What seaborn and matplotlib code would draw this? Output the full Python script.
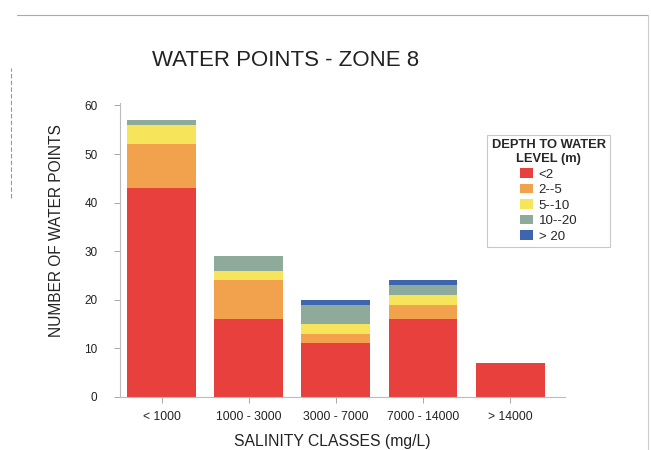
import matplotlib
matplotlib.use("Agg")
import matplotlib.pyplot as plt
import seaborn as sns
import pandas as pd
from matplotlib.lines import Line2D
from matplotlib.patches import Patch

categories = ["< 1000", "1000 - 3000", "3000 - 7000", "7000 - 14000", "> 14000"]
depth_classes = ["<2", "2--5", "5--10", "10--20", "> 20"]
lt2 = [43, 16, 11, 16, 7]
d2_5 = [9, 8, 2, 3, 0]
d5_10 = [4, 2, 2, 2, 0]
d10_20 = [1, 3, 4, 2, 0]
gt20 = [0, 0, 1, 1, 0]
series = [lt2, d2_5, d5_10, d10_20, gt20]
colors = ["#E8403C", "#F2A24C", "#F6E45A", "#8DAA9A", "#3D66AE"]

sns.set_theme(style="white")
plt.rcParams["font.family"] = ["Liberation Sans", "DejaVu Sans"]

fig = plt.figure(figsize=(6.51, 4.50), dpi=100)
ax = fig.add_axes([0.184, 0.118, 0.684, 0.653])

bottom = [0] * len(categories)
for name, vals, col in zip(depth_classes, series, colors):
    df = pd.DataFrame({"cat": categories, "val": vals})
    sns.barplot(data=df, x="cat", y="val", color=col, bottom=bottom, width=0.79,
                saturation=1, ax=ax, linewidth=0, order=categories)
    bottom = [b + v for b, v in zip(bottom, vals)]

ax.set_xlim(-0.48, 4.63)
ax.set_ylim(0, 60.5)
ax.set_yticks([0, 10, 20, 30, 40, 50, 60])
ax.tick_params(axis="both", colors="#999999", length=4, width=0.6,
               bottom=True, left=True, labelcolor="#222222")
ax.tick_params(axis="y", labelsize=8.5, pad=12)
ax.tick_params(axis="x", labelsize=8.7, pad=6)
for s in ["top", "right"]:
    ax.spines[s].set_visible(False)
for s in ["left", "bottom"]:
    ax.spines[s].set_color("#BBBBBB")
    ax.spines[s].set_linewidth(0.8)

ax.set_xlabel("SALINITY CLASSES (mg/L)", fontsize=11.3, color="#222222")
ax.set_ylabel("NUMBER OF WATER POINTS", fontsize=11.2, color="#222222")
ax.xaxis.set_label_coords(0.478, -0.125)
ax.yaxis.set_label_coords(-0.125, 0.565)
fig.text(0.438, 0.865, "WATER POINTS - ZONE 8", fontsize=16, ha="center", va="center",
         color="#222222")

handles = [Patch(facecolor=c, edgecolor="none") for c in colors]
leg = ax.legend(handles, depth_classes, title="DEPTH TO WATER\nLEVEL (m)",
                loc="upper left", bbox_to_anchor=(0.81, 0.915), fontsize=9.5,
                title_fontproperties={"weight": "bold", "size": 9.3},
                frameon=True, fancybox=False, edgecolor="#BBBBBB",
                handlelength=1.0, handleheight=0.7, handletextpad=0.4,
                labelspacing=0.25, borderpad=0.35)
leg.get_frame().set_linewidth(0.8)
leg.get_title().set_multialignment("center")
leg._legend_box.align = "center"

# scanned page frame
fig.add_artist(Line2D([0.026, 0.995], [0.967, 0.967], color="#AAAAAA", lw=0.8))
fig.add_artist(Line2D([0.995, 0.995], [0.967, 0.0], color="#CCCCCC", lw=0.8))
fig.add_artist(Line2D([0.017, 0.017], [0.56, 0.85], color="#999999", lw=0.8, ls=(0, (4, 2))))

fig.savefig("out.png", dpi=100)
